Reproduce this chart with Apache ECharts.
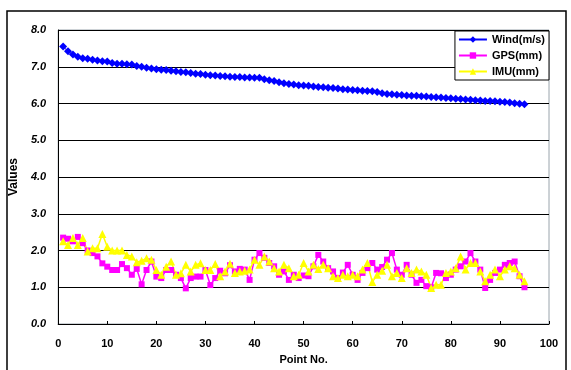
<!DOCTYPE html>
<html>
<head>
<meta charset="utf-8">
<style>html,body{margin:0;padding:0;background:#fff;}#c{width:571px;height:370px;}</style>
<script src="https://cdn.jsdelivr.net/npm/echarts@6/dist/echarts.min.js"></script>
</head>
<body>
<div id="c"></div>
<script>
var seriesNames = ['Wind(m/s)', 'GPS(mm)', 'IMU(mm)'];
var xTicks = [0,10,20,30,40,50,60,70,80,90,100];
var yTicks = ['0.0','1.0','2.0','3.0','4.0','5.0','6.0','7.0','8.0'];
var wind = [7.55,7.42,7.33,7.27,7.23,7.22,7.19,7.17,7.15,7.14,7.10,7.08,7.08,7.07,7.06,7.02,7.00,6.97,6.95,6.93,
6.92,6.91,6.89,6.88,6.86,6.85,6.83,6.81,6.80,6.78,6.77,6.76,6.75,6.74,6.73,6.72,6.72,6.71,6.71,6.70,
6.70,6.66,6.63,6.61,6.58,6.55,6.53,6.52,6.50,6.49,6.48,6.46,6.45,6.44,6.43,6.42,6.41,6.39,6.38,6.37,
6.36,6.35,6.34,6.33,6.31,6.28,6.26,6.25,6.24,6.23,6.22,6.21,6.21,6.20,6.19,6.18,6.17,6.16,6.15,6.14,
6.13,6.12,6.11,6.10,6.09,6.08,6.07,6.07,6.06,6.05,6.04,6.03,6.01,5.99,5.98];
var gps = [2.35,2.32,2.25,2.37,2.20,2.00,1.93,1.84,1.65,1.56,1.47,1.47,1.63,1.52,1.34,1.50,1.08,1.47,1.70,1.29,
1.25,1.47,1.47,1.34,1.25,0.97,1.25,1.29,1.29,1.47,1.06,1.25,1.45,1.38,1.60,1.43,1.50,1.48,1.20,1.75,
1.93,1.80,1.66,1.57,1.34,1.43,1.20,1.34,1.25,1.32,1.30,1.57,1.88,1.70,1.52,1.43,1.25,1.40,1.61,1.34,
1.20,1.39,1.52,1.66,1.48,1.55,1.75,1.93,1.48,1.34,1.61,1.34,1.12,1.20,1.03,1.00,1.39,1.38,1.25,1.34,
1.48,1.57,1.70,1.93,1.70,1.48,0.98,1.20,1.39,1.48,1.61,1.66,1.70,1.30,1.00];
var imu = [2.25,2.15,2.34,2.15,2.34,1.97,2.06,2.06,2.45,2.10,2.00,2.00,2.00,1.88,1.84,1.68,1.72,1.79,1.75,1.47,
1.34,1.56,1.70,1.34,1.38,1.61,1.43,1.61,1.65,1.47,1.47,1.63,1.30,1.43,1.64,1.39,1.43,1.45,1.48,1.75,
1.61,1.84,1.70,1.52,1.43,1.61,1.52,1.30,1.34,1.66,1.43,1.61,1.50,1.61,1.52,1.30,1.25,1.34,1.30,1.34,
1.30,1.48,1.66,1.14,1.34,1.45,1.61,1.30,1.39,1.25,1.52,1.39,1.48,1.43,1.34,0.98,1.07,1.07,1.39,1.43,
1.52,1.84,1.48,1.66,1.66,1.43,1.16,1.34,1.48,1.30,1.48,1.57,1.52,1.34,1.16];

function pts(arr){ return arr.map(function(v,i){ return [i+1, v]; }); }
var font = 'Liberation Sans, Arial, sans-serif';
var chart = echarts.init(document.getElementById('c'), null, {renderer:'canvas'});
chart.setOption({
  animation: false,
  backgroundColor: '#fff',
  textStyle: {fontFamily: font},
  graphic: [{
    type: 'rect', silent: true, z: -1,
    shape: {x: 7, y: 11, width: 559, height: 400},
    style: {fill: 'none', stroke: '#000', lineWidth: 1.5}
  }],
  grid: {left: 52, right: 22, top: 30, bottom: 43, show: true, borderColor: '#9aa4ac', borderWidth: 1, backgroundColor: 'transparent'},
  legend: {
    orient: 'vertical', right: 22, top: 31,
    data: seriesNames,
    backgroundColor: '#fff', borderColor: '#000', borderWidth: 1,
    padding: [3, 4, 3, 3], itemGap: 5, itemWidth: 28, itemHeight: 8,
    textStyle: {fontFamily: font, fontWeight: 'bold', fontSize: 11, color: '#000'}
  },
  xAxis: {
    type: 'value', min: 0, max: 100, interval: 10,
    name: 'Point No.', nameLocation: 'middle', nameGap: 30,
    nameTextStyle: {fontFamily: font, fontWeight: 'bold', fontSize: 11, color: '#000'},
    axisLine: {show: true, lineStyle: {color: '#000', width: 1}},
    axisTick: {show: true, inside: true, length: 3, lineStyle: {color: '#000'}},
    splitLine: {show: false},
    axisLabel: {fontFamily: font, fontWeight: 'bold', fontSize: 11, color: '#000', margin: 14,
      formatter: function(v){ return xTicks.indexOf(v) >= 0 ? String(v) : ''; }}
  },
  yAxis: {
    type: 'value', min: 0, max: 8, interval: 1,
    name: 'Values', nameLocation: 'middle', nameGap: 36, nameRotate: 90,
    nameTextStyle: {fontFamily: font, fontWeight: 'bold', fontSize: 12, color: '#000'},
    axisLine: {show: true, lineStyle: {color: '#000', width: 1}},
    axisTick: {show: false},
    splitLine: {show: true, lineStyle: {color: '#000', width: 1}},
    axisLabel: {fontFamily: font, fontWeight: 'bold', fontStyle: 'italic', fontSize: 11, color: '#000', margin: 12,
      formatter: function(v){ return yTicks[Math.round(v)]; }}
  },
  series: [
    {name: seriesNames[0], type: 'line', data: pts(wind), symbol: 'diamond', symbolSize: 8,
     itemStyle: {color: '#0000ff'}, lineStyle: {color: '#0000ff', width: 1}},
    {name: seriesNames[1], type: 'line', data: pts(gps), symbol: 'rect', symbolSize: 6,
     itemStyle: {color: '#ff00ff'}, lineStyle: {color: '#ff00ff', width: 1.5}},
    {name: seriesNames[2], type: 'line', data: pts(imu), symbol: 'triangle', symbolSize: 8,
     itemStyle: {color: '#ffff00'}, lineStyle: {color: '#ffff00', width: 1.5}}
  ]
});
</script>
</body>
</html>
